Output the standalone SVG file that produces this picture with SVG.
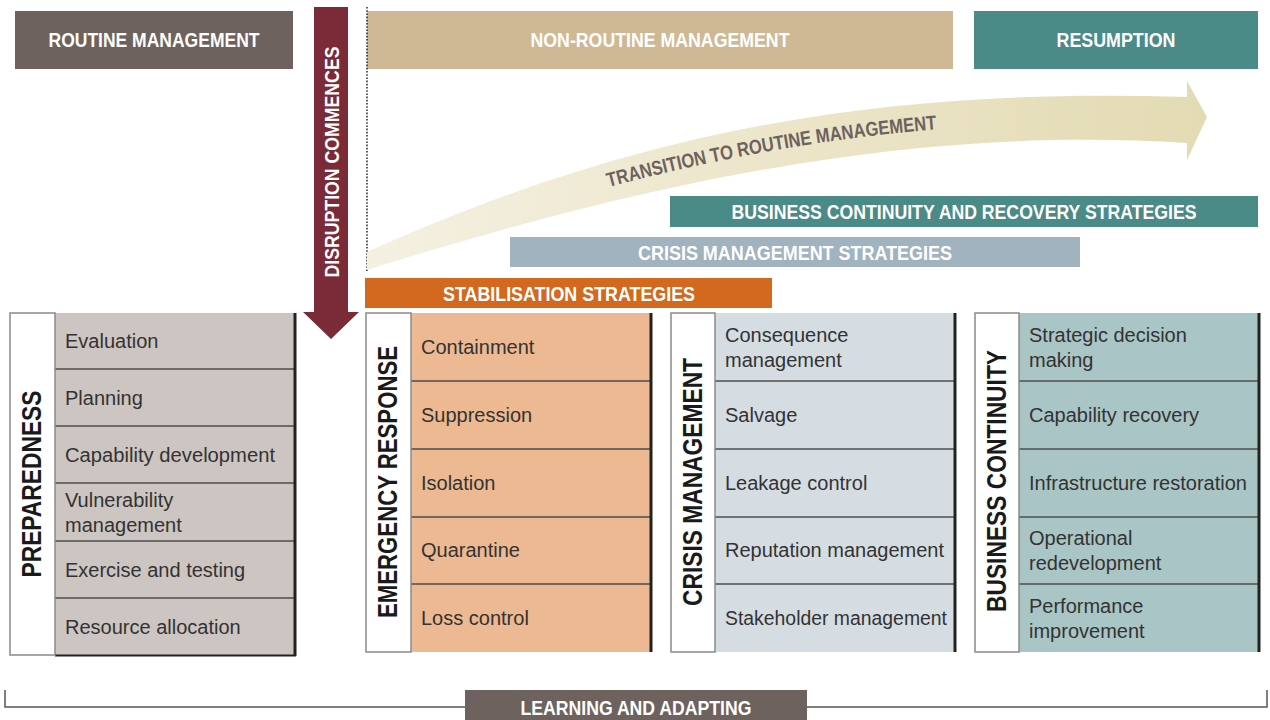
<svg xmlns="http://www.w3.org/2000/svg" width="1270" height="720" viewBox="0 0 1270 720">
  <defs>
    <linearGradient id="transGrad" x1="367" y1="0" x2="1207" y2="0" gradientUnits="userSpaceOnUse">
      <stop offset="0" stop-color="#f5f1e2"/>
      <stop offset="0.5" stop-color="#ece5c9"/>
      <stop offset="1" stop-color="#e3dbb3"/>
    </linearGradient>
    <path id="transPath" d="M367,266 C690,142 944,114 1187,125"/>
    <style>
      .hdr { font-family: "Liberation Sans", Arial, sans-serif; font-weight: bold; font-size: 21px; fill: #ffffff; }
      .vlab { font-family: "Liberation Sans", Arial, sans-serif; font-weight: bold; font-size: 27px; fill: #1a1a1a; }
      .item { font-family: "Liberation Sans", Arial, sans-serif; font-size: 20px; fill: #333333; }
      .lbox { fill: #ffffff; stroke: #8a8a8a; stroke-width: 1.5; }
      .sep { stroke: #4d4d4d; stroke-width: 1.3; }
      .rb { stroke: #222222; stroke-width: 3; }
      .trans { font-family: "Liberation Sans", Arial, sans-serif; font-weight: bold; font-size: 20px; fill: #6d625e; }
    </style>
  </defs>

  <!-- Phase headers -->
  <g id="routine-management">
    <rect x="15" y="11" width="278" height="58" fill="#6d625e"/>
    <text class="hdr" x="154" y="47" text-anchor="middle" textLength="211" lengthAdjust="spacingAndGlyphs">ROUTINE MANAGEMENT</text>
  </g>
  <g id="non-routine-management">
    <rect x="367" y="11" width="586" height="58" fill="#cfb995"/>
    <text class="hdr" x="660" y="47" text-anchor="middle" textLength="259" lengthAdjust="spacingAndGlyphs">NON-ROUTINE MANAGEMENT</text>
  </g>
  <g id="resumption">
    <rect x="974" y="11" width="284" height="58" fill="#4a8a87"/>
    <text class="hdr" x="1116" y="47" text-anchor="middle" textLength="119" lengthAdjust="spacingAndGlyphs">RESUMPTION</text>
  </g>

  <!-- Connectors / arrows -->
  <g id="connectors">
    <line x1="367" y1="7" x2="367" y2="271" stroke="#333333" stroke-width="1.6" stroke-dasharray="1.6 1.6"/>
    <path d="M367,252 C680,110 937,90 1187,97 L1187,81 L1207,117 L1187,160 L1187,143 C950,128 700,165 367,270 Z" fill="url(#transGrad)"/>
    <text class="trans"><textPath href="#transPath" startOffset="254" textLength="334" lengthAdjust="spacingAndGlyphs">TRANSITION TO ROUTINE MANAGEMENT</textPath></text>
    <g id="disruption-commences">
      <polygon points="314,7 348,7 348,312 359,312 331,339 303,312 314,312" fill="#7b2a38"/>
      <text class="hdr" transform="translate(339,162) rotate(-90)" x="0" y="0" text-anchor="middle" font-size="22" textLength="231" lengthAdjust="spacingAndGlyphs">DISRUPTION COMMENCES</text>
    </g>
    <path d="M5,690 L5,707 L1267,707 L1267,690" fill="none" stroke="#555555" stroke-width="1.5"/>
  </g>

  <!-- Strategy bars -->
  <g id="bc-recovery-strategies">
    <rect x="670" y="196" width="588" height="31" fill="#4a8a87"/>
    <text class="hdr" x="964" y="219" text-anchor="middle" font-size="19.5" textLength="465" lengthAdjust="spacingAndGlyphs">BUSINESS CONTINUITY AND RECOVERY STRATEGIES</text>
  </g>
  <g id="crisis-management-strategies">
    <rect x="510" y="237" width="570" height="30" fill="#a2b3c0"/>
    <text class="hdr" x="795" y="260" text-anchor="middle" textLength="314" lengthAdjust="spacingAndGlyphs">CRISIS MANAGEMENT STRATEGIES</text>
  </g>
  <g id="stabilisation-strategies">
    <rect x="365" y="278" width="407" height="30" fill="#d2691e"/>
    <text class="hdr" x="569" y="301" text-anchor="middle" textLength="252" lengthAdjust="spacingAndGlyphs">STABILISATION STRATEGIES</text>
  </g>

  <!-- Preparedness -->
  <g id="preparedness">
    <rect x="55" y="313" width="240" height="342" fill="#ccc5c1"/>
    <line class="sep" x1="55" y1="369" x2="295" y2="369"/>
    <line class="sep" x1="55" y1="426" x2="295" y2="426"/>
    <line class="sep" x1="55" y1="483" x2="295" y2="483"/>
    <line class="sep" x1="55" y1="541" x2="295" y2="541"/>
    <line class="sep" x1="55" y1="598" x2="295" y2="598"/>
    <line class="rb" x1="295" y1="313" x2="295" y2="656"/>
    <line x1="55" y1="655.5" x2="296" y2="655.5" stroke="#222222" stroke-width="2"/>
    <rect class="lbox" x="10" y="313" width="45" height="342"/>
    <text class="vlab" transform="translate(41,484) rotate(-90)" text-anchor="middle" textLength="187" lengthAdjust="spacingAndGlyphs">PREPAREDNESS</text>
    <text class="item" x="65" y="348">Evaluation</text>
    <text class="item" x="65" y="405">Planning</text>
    <text class="item" x="65" y="462" textLength="210" lengthAdjust="spacingAndGlyphs">Capability development</text>
    <text class="item" x="65" y="507">Vulnerability</text>
    <text class="item" x="65" y="532">management</text>
    <text class="item" x="65" y="577">Exercise and testing</text>
    <text class="item" x="65" y="634">Resource allocation</text>
  </g>

  <!-- Emergency response -->
  <g id="emergency-response">
    <rect x="411" y="313" width="240" height="339" fill="#ecb992"/>
    <line class="sep" x1="411" y1="381" x2="651" y2="381"/>
    <line class="sep" x1="411" y1="449" x2="651" y2="449"/>
    <line class="sep" x1="411" y1="517" x2="651" y2="517"/>
    <line class="sep" x1="411" y1="584" x2="651" y2="584"/>
    <line class="rb" x1="651" y1="313" x2="651" y2="652"/>
    <rect class="lbox" x="366" y="313" width="45" height="339"/>
    <text class="vlab" transform="translate(397,482) rotate(-90)" text-anchor="middle" textLength="272" lengthAdjust="spacingAndGlyphs">EMERGENCY RESPONSE</text>
    <text class="item" x="421" y="354">Containment</text>
    <text class="item" x="421" y="422">Suppression</text>
    <text class="item" x="421" y="490">Isolation</text>
    <text class="item" x="421" y="557">Quarantine</text>
    <text class="item" x="421" y="625">Loss control</text>
  </g>

  <!-- Crisis management -->
  <g id="crisis-management">
    <rect x="715" y="313" width="240" height="339" fill="#d5dde3"/>
    <line class="sep" x1="715" y1="381" x2="955" y2="381"/>
    <line class="sep" x1="715" y1="449" x2="955" y2="449"/>
    <line class="sep" x1="715" y1="517" x2="955" y2="517"/>
    <line class="sep" x1="715" y1="584" x2="955" y2="584"/>
    <line class="rb" x1="955" y1="313" x2="955" y2="652"/>
    <rect class="lbox" x="671" y="313" width="44" height="339"/>
    <text class="vlab" transform="translate(702,482) rotate(-90)" text-anchor="middle" textLength="248" lengthAdjust="spacingAndGlyphs">CRISIS MANAGEMENT</text>
    <text class="item" x="725" y="342">Consequence</text>
    <text class="item" x="725" y="367">management</text>
    <text class="item" x="725" y="422">Salvage</text>
    <text class="item" x="725" y="490">Leakage control</text>
    <text class="item" x="725" y="557" textLength="219" lengthAdjust="spacingAndGlyphs">Reputation management</text>
    <text class="item" x="725" y="625" textLength="222" lengthAdjust="spacingAndGlyphs">Stakeholder management</text>
  </g>

  <!-- Business continuity -->
  <g id="business-continuity">
    <rect x="1019" y="313" width="240" height="339" fill="#a9c5c5"/>
    <line class="sep" x1="1019" y1="381" x2="1259" y2="381"/>
    <line class="sep" x1="1019" y1="449" x2="1259" y2="449"/>
    <line class="sep" x1="1019" y1="517" x2="1259" y2="517"/>
    <line class="sep" x1="1019" y1="584" x2="1259" y2="584"/>
    <line class="rb" x1="1259" y1="313" x2="1259" y2="652"/>
    <rect class="lbox" x="975" y="313" width="44" height="339"/>
    <text class="vlab" transform="translate(1006,481) rotate(-90)" text-anchor="middle" textLength="262" lengthAdjust="spacingAndGlyphs">BUSINESS CONTINUITY</text>
    <text class="item" x="1029" y="342">Strategic decision</text>
    <text class="item" x="1029" y="367">making</text>
    <text class="item" x="1029" y="422">Capability recovery</text>
    <text class="item" x="1029" y="490" textLength="218" lengthAdjust="spacingAndGlyphs">Infrastructure restoration</text>
    <text class="item" x="1029" y="545">Operational</text>
    <text class="item" x="1029" y="570">redevelopment</text>
    <text class="item" x="1029" y="613">Performance</text>
    <text class="item" x="1029" y="638">improvement</text>
  </g>

  <!-- Learning and adapting -->
  <g id="learning-and-adapting">
    <rect x="465" y="690" width="342" height="30" fill="#6d625e"/>
    <text class="hdr" x="636" y="715" text-anchor="middle" textLength="231" lengthAdjust="spacingAndGlyphs">LEARNING AND ADAPTING</text>
  </g>
</svg>
